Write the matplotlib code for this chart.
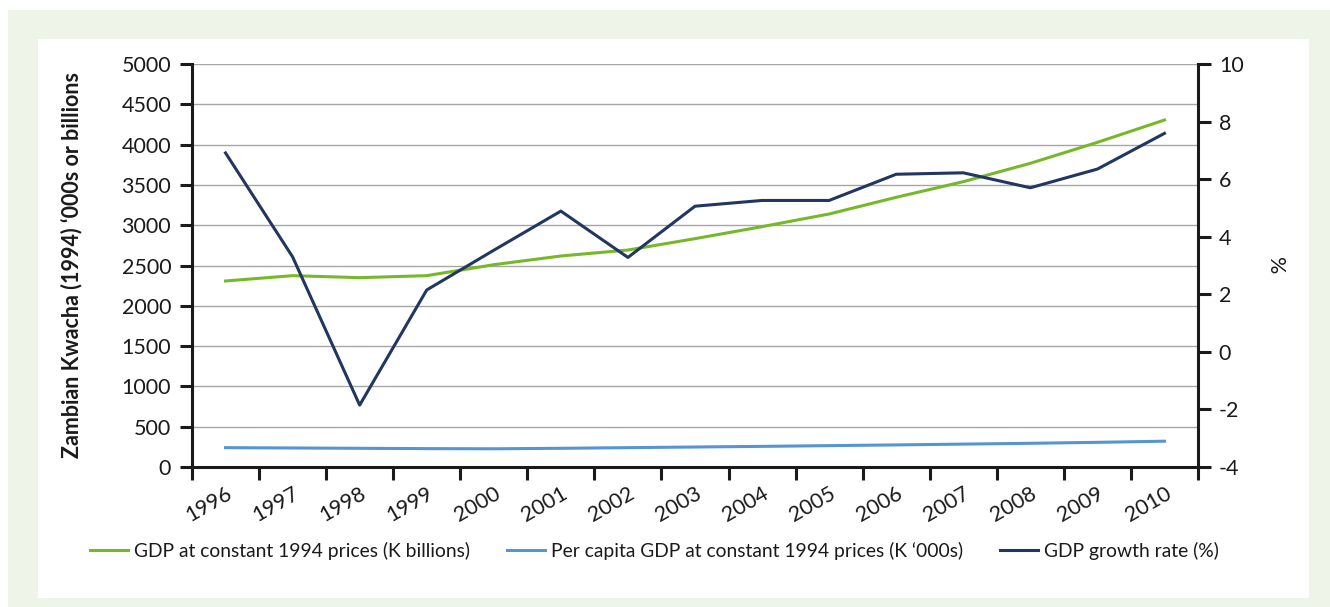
import matplotlib.pyplot as plt
from matplotlib.patches import Rectangle
import numpy as np

years = ['1996', '1997', '1998', '1999', '2000', '2001', '2002', '2003',
         '2004', '2005', '2006', '2007', '2008', '2009', '2010']
gdp = [2308, 2374, 2349, 2374, 2510, 2618, 2692, 2833, 2982, 3139,
       3346, 3540, 3768, 4028, 4305]
per_capita = [240, 236, 232, 228, 226, 232, 240, 248, 256, 265,
              274, 284, 294, 306, 320]
growth = [6.91, 3.30, -1.85, 2.15, 3.53, 4.89, 3.28, 5.06, 5.26, 5.26,
          6.17, 6.22, 5.70, 6.35, 7.59]

plt.rcParams['font.family'] = ['Lato', 'DejaVu Sans']
plt.rcParams['axes.unicode_minus'] = False
text_col = '#1a1a1a'

fig = plt.figure(figsize=(13.3, 6.07), dpi=100)
W, H = 1330, 607
# outer light green frame and white panel
fig.patches.append(Rectangle((8 / W, 0), 1 - 8 / W, 1 - 10 / H, transform=fig.transFigure,
                             facecolor='#eef4e7', edgecolor='none', zorder=-10))
fig.patches.append(Rectangle((38 / W, 1 - 598 / H), (1309 - 38) / W, (598 - 39) / H,
                             transform=fig.transFigure, facecolor='white',
                             edgecolor='none', zorder=-9))

ax = fig.add_axes([192 / W, 1 - 467 / H, (1198 - 192) / W, (467 - 64) / H])
ax.set_facecolor('none')
ax2 = ax.twinx()

x = np.arange(len(years)) + 0.5
l1, = ax.plot(x, gdp, color='#77b82a', lw=2.2, label='GDP at constant 1994 prices (K billions)')
l2, = ax.plot(x, per_capita, color='#5596d0', lw=2.2,
              label='Per capita GDP at constant 1994 prices (K \u2018000s)')
l3, = ax2.plot(x, growth, color='#22375f', lw=2.2, label='GDP growth rate (%)')

ax.set_xlim(0, len(years))
ax.set_ylim(0, 5000)
ax.set_yticks(np.arange(0, 5001, 500))
ax2.set_ylim(-4, 10)
ax2.set_yticks(np.arange(-4, 11, 2))

ax.yaxis.grid(True, color='#a6a6a6', lw=1)
ax.set_axisbelow(True)

for a in (ax, ax2):
    a.spines['top'].set_visible(False)
    for s in ('left', 'right', 'bottom'):
        a.spines[s].set_linewidth(2.2)
        a.spines[s].set_color(text_col)
ax.spines['right'].set_visible(False)
ax2.spines['left'].set_visible(False)
ax2.spines['bottom'].set_visible(False)

ax.set_xticks(np.arange(0, len(years) + 1))
ax.set_xticklabels([])
ax.set_xticks(x, minor=True)
ax.set_xticklabels(years, minor=True, rotation=30, ha='right', va='top',
                   rotation_mode='anchor', fontsize=15.5, color=text_col)
ax.tick_params(axis='x', which='major', direction='out', length=9, width=2.2, color=text_col)
ax.tick_params(axis='x', which='minor', length=0, pad=12)
ax.tick_params(axis='y', direction='out', length=9, width=2.2, color=text_col,
               labelsize=15.5, labelcolor=text_col, pad=6)
ax2.tick_params(axis='y', direction='out', length=9, width=2.2, color=text_col,
                labelsize=15.5, labelcolor=text_col, pad=6)

ax.set_ylabel('Zambian Kwacha (1994) \u2018000s or billions', fontsize=15.5,
              fontweight='bold', color=text_col, labelpad=28)
ax2.set_ylabel('%', fontsize=15.5, color=text_col, rotation=270, labelpad=30)

fig.legend(handles=[l1, l2, l3], loc='center', bbox_to_anchor=(0.492, 1 - 551 / H),
           ncol=3, frameon=False, fontsize=13.9, handlelength=2.0, columnspacing=1.9,
           handletextpad=0.3, labelcolor=text_col)

fig.savefig('out.png', dpi=100)
